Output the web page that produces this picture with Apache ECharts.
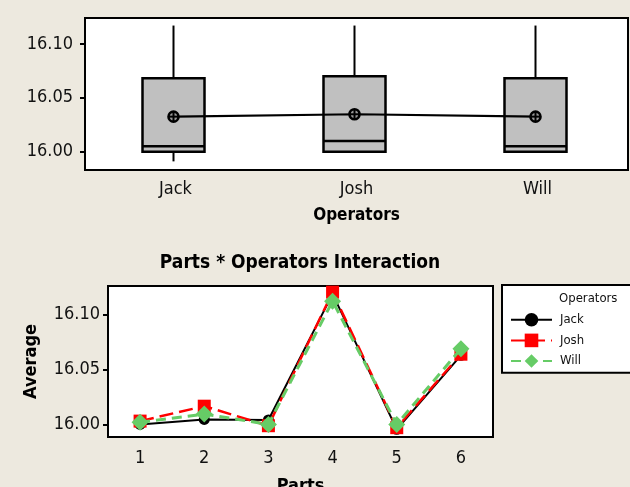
<!DOCTYPE html>
<html>
<head>
<meta charset="utf-8">
<style>
  html, body { margin: 0; padding: 0; background: #EDE9DF; }
  #chart { width: 630px; height: 487px; }
</style>
<script src="https://cdn.jsdelivr.net/npm/echarts@6/dist/echarts.min.js"></script>
</head>
<body>
<div id="chart"></div>
<script>
// Boxplot of measurements by operator
const operators = ['Jack', 'Josh', 'Will'];
const whiskerLow = [15.991, 16.000, 16.000];
const quart1 = [16.000, 16.000, 16.000];
const medians = [16.005, 16.010, 16.005];
const quart3 = [16.068, 16.070, 16.068];
const whiskerHigh = [16.117, 16.117, 16.117];
const operatorMeans = [16.0325, 16.0347, 16.0325];
const boxTicks = [16.00, 16.05, 16.10];

// Parts * Operators interaction averages
const parts = ['1', '2', '3', '4', '5', '6'];
const jackAvg = [16.000, 16.0045, 16.004, 16.119, 15.9955, 16.063];
const joshAvg = [16.003, 16.0166, 15.9988, 16.1206, 15.997, 16.064];
const willAvg = [16.002, 16.0094, 16.000, 16.1124, 16.000, 16.069];
const avgTicks = [16.00, 16.05, 16.10];

const FONT = "'DejaVu Sans Condensed', 'DejaVu Sans', sans-serif";

const boxRows = operators.map((_, i) => [i, whiskerLow[i], quart1[i], medians[i], quart3[i], whiskerHigh[i]]);
const meanRows = operators.map((_, i) => [i, operatorMeans[i]]);

function renderBox(params, api) {
  const i = api.value(0);
  const lo = api.coord([i, api.value(1)]);
  const b1 = api.coord([i, api.value(2)]);
  const md = api.coord([i, api.value(3)]);
  const b3 = api.coord([i, api.value(4)]);
  const hi = api.coord([i, api.value(5)]);
  const x = lo[0] - 2;
  const half = 31;
  const line = { stroke: '#000', lineWidth: 2 };
  const children = [
    { type: 'line', shape: { x1: x, y1: hi[1], x2: x, y2: b3[1] }, style: line },
    { type: 'rect', shape: { x: x - half, y: b3[1], width: half * 2, height: b1[1] - b3[1] },
      style: { fill: '#C0C0C0', stroke: '#000', lineWidth: 2.5 } },
    { type: 'line', shape: { x1: x - half, y1: md[1], x2: x + half, y2: md[1] }, style: { stroke: '#000', lineWidth: 2.5 } }
  ];
  if (lo[1] - b1[1] > 1) {
    children.push({ type: 'line', shape: { x1: x, y1: b1[1], x2: x, y2: lo[1] }, style: line });
  }
  return { type: 'group', children };
}

function renderMean(params, api) {
  const p = api.coord([api.value(0), api.value(1)]);
  const x = p[0] - 2, y = p[1];
  const r = 5;
  const s = { stroke: '#000', lineWidth: 2, fill: null };
  return {
    type: 'group',
    children: [
      { type: 'circle', shape: { cx: x, cy: y, r }, style: { stroke: '#000', lineWidth: 2.6, fill: '#9a9a9a' } },
      { type: 'line', shape: { x1: x - r, y1: y, x2: x + r, y2: y }, style: s },
      { type: 'line', shape: { x1: x, y1: y - r, x2: x, y2: y + r }, style: s }
    ]
  };
}

const axisText = { color: '#111', fontFamily: FONT, fontSize: 18 };

const chart = echarts.init(document.getElementById('chart'), null, { renderer: 'canvas' });
chart.setOption({
  backgroundColor: '#EDE9DF',
  animation: false,
  textStyle: { fontFamily: FONT },
  grid: [
    { left: 85, top: 18, width: 543, height: 152, show: true, backgroundColor: '#fff',
      borderColor: '#000', borderWidth: 2, containLabel: false, outerBoundsMode: 'none' },
    { left: 108, top: 286, width: 385, height: 151, show: true, backgroundColor: '#fff',
      borderColor: '#000', borderWidth: 2, containLabel: false, outerBoundsMode: 'none' }
  ],
  xAxis: [
    {
      gridIndex: 0, type: 'category', data: operators, boundaryGap: true,
      axisLine: { show: true, lineStyle: { color: '#000', width: 2 } },
      axisTick: { alignWithLabel: true, length: 5, lineStyle: { color: '#000', width: 2 } },
      axisLabel: Object.assign({ margin: 10, fontSize: 17 }, axisText),
      name: 'Operators', nameLocation: 'middle', nameGap: 37,
      nameTextStyle: { fontFamily: FONT, fontWeight: 'bold', fontSize: 17, color: '#000' }
    },
    {
      gridIndex: 1, type: 'category', data: parts, boundaryGap: true,
      axisLine: { show: true, lineStyle: { color: '#000', width: 2 } },
      axisTick: { alignWithLabel: true, length: 5, lineStyle: { color: '#000', width: 2 } },
      axisLabel: Object.assign({ margin: 12 }, axisText),
      name: 'Parts', nameLocation: 'middle', nameGap: 40,
      nameTextStyle: { fontFamily: FONT, fontWeight: 'bold', fontSize: 18, color: '#000' }
    }
  ],
  yAxis: [
    {
      gridIndex: 0, type: 'value', min: 15.983, max: 16.124,
      splitLine: { show: false },
      axisLine: { show: true, lineStyle: { color: '#000', width: 2 } },
      axisTick: { show: true, length: 5, customValues: boxTicks, lineStyle: { color: '#000', width: 2 } },
      axisLabel: Object.assign({ margin: 12, customValues: boxTicks, formatter: v => v.toFixed(2) }, axisText)
    },
    {
      gridIndex: 1, type: 'value', min: 15.9885, max: 16.1262,
      splitLine: { show: false },
      axisLine: { show: true, lineStyle: { color: '#000', width: 2 } },
      axisTick: { show: true, length: 5, customValues: avgTicks, lineStyle: { color: '#000', width: 2 } },
      axisLabel: Object.assign({ margin: 8, customValues: avgTicks, formatter: v => v.toFixed(2) }, axisText),
      name: 'Average', nameLocation: 'middle', nameGap: 68, nameRotate: 90,
      nameTextStyle: { fontFamily: FONT, fontWeight: 'bold', fontSize: 18, color: '#000' }
    }
  ],
  legend: {
    orient: 'vertical', left: 502, top: 285,
    padding: [28, 100, 5, 8],
    backgroundColor: '#fff', borderColor: '#000', borderWidth: 2,
    itemWidth: 41, itemHeight: 17, itemGap: 7,
    textStyle: { fontFamily: FONT, fontSize: 13, color: '#111', padding: [0, 0, 0, 3] },
    data: ['Jack', 'Josh', 'Will']
  },
  graphic: [
    { type: 'text', x: 300, y: 263, z: 10,
      style: { text: 'Parts * Operators Interaction', textAlign: 'center', textVerticalAlign: 'middle',
               font: "bold 19px " + FONT, fill: '#000' } },
    { type: 'text', x: 559, y: 299, z: 10,
      style: { text: 'Operators', textAlign: 'left', textVerticalAlign: 'middle',
               font: "13px " + FONT, fill: '#111' } }
  ],
  series: [
    { type: 'custom', name: 'box', xAxisIndex: 0, yAxisIndex: 0, data: boxRows,
      encode: { x: 0, y: [1, 2, 3, 4, 5] }, renderItem: renderBox, z: 2 },
    { type: 'line', name: 'mean', xAxisIndex: 0, yAxisIndex: 0, data: operatorMeans,
      symbol: 'none', lineStyle: { color: '#000', width: 2.2 }, z: 3 },
    { type: 'custom', name: 'meanMark', xAxisIndex: 0, yAxisIndex: 0, data: meanRows,
      encode: { x: 0, y: 1 }, renderItem: renderMean, z: 4 },
    { type: 'line', name: 'Jack', xAxisIndex: 1, yAxisIndex: 1, data: jackAvg,
      symbol: 'circle', symbolSize: 11,
      itemStyle: { color: '#000' }, lineStyle: { color: '#000', width: 2 }, z: 3 },
    { type: 'line', name: 'Josh', xAxisIndex: 1, yAxisIndex: 1, data: joshAvg,
      symbol: 'rect', symbolSize: 13,
      itemStyle: { color: '#FF0000' }, lineStyle: { color: '#FF0000', width: 2.5, type: [14, 6] }, z: 4 },
    { type: 'line', name: 'Will', xAxisIndex: 1, yAxisIndex: 1, data: willAvg,
      symbol: 'diamond', symbolSize: [17, 17],
      itemStyle: { color: '#66CC66' }, lineStyle: { color: '#66CC66', width: 3, type: [10, 6] }, z: 5 }
  ]
});
</script>
</body>
</html>
